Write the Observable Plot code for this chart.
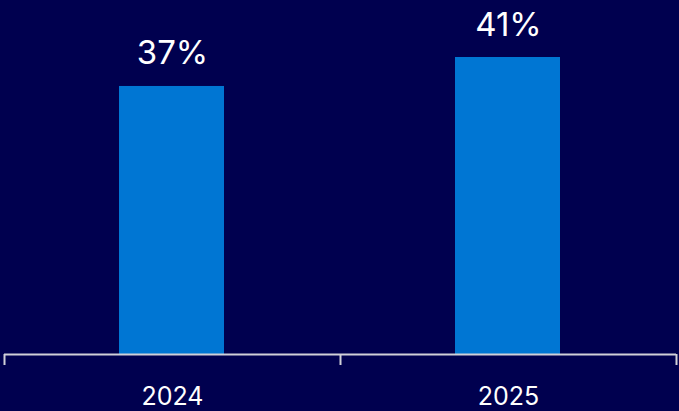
<!DOCTYPE html>
<html>
<head>
<meta charset="utf-8">
<script src="https://cdn.jsdelivr.net/npm/d3@7"></script>
<script src="https://cdn.jsdelivr.net/npm/@observablehq/plot@0.6"></script>
<style>
  html, body { margin: 0; padding: 0; background: #00004f; }
  svg { display: block; }
</style>
</head>
<body>
<div id="chart"></div>
<script>
const years = ["2024", "2025"];
const values = [37, 41];
const boundaries = [0, 1, 2];

const data = years.map((year, i) => ({year, value: values[i], i}));

const chart = Plot.plot({
  width: 679,
  height: 411,
  marginLeft: 4,
  marginRight: 3,
  marginTop: 57,
  marginBottom: 57,
  style: {background: "#00004f", color: "white", fontFamily: "Inter, 'Noto Sans', sans-serif"},
  x: {type: "linear", domain: [0, 2], axis: null},
  y: {domain: [0, 41], axis: null},
  marks: [
    Plot.rectY(data, {x1: d => d.i, x2: d => d.i + 1, y: "value", fill: "#0076d3", insetLeft: 115, insetRight: 116}),
    Plot.ruleY([0], {stroke: "#d0d0d8", strokeWidth: 2}),
    Plot.axisX(boundaries, {tickSize: 11, tickFormat: () => "", stroke: "#d0d0d8", strokeWidth: 2, anchor: "bottom"}),
    Plot.text(data, {x: d => d.i + 0.5, y: "value", text: d => `${d.value}%`, dy: -22, lineAnchor: "bottom", fill: "white", fontSize: 33}),
    Plot.text(data, {x: d => d.i + 0.5, frameAnchor: "bottom", text: "year", dy: 50, lineAnchor: "bottom", fill: "white", fontSize: 25})
  ]
});
document.getElementById("chart").appendChild(chart);
</script>
</body>
</html>
